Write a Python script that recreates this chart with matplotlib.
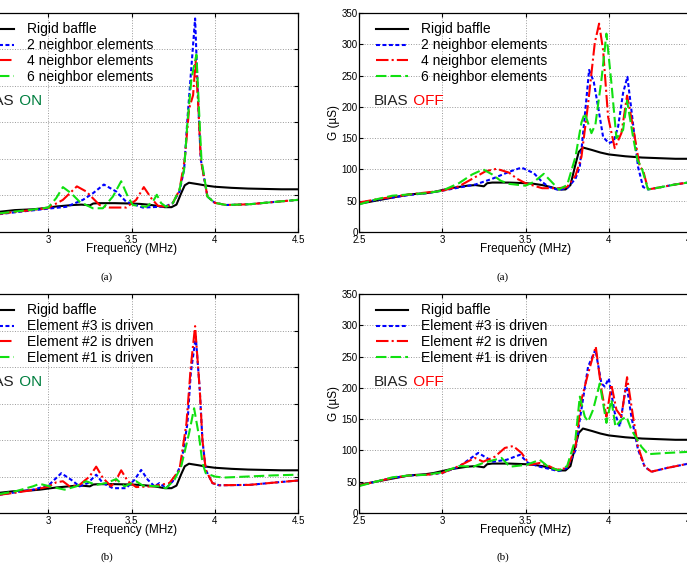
import numpy as np
import matplotlib
matplotlib.use('Agg')
import matplotlib.pyplot as plt

plt.rcParams['font.family'] = ['Liberation Sans', 'DejaVu Sans']

# ---- data: frequency (MHz) / conductance G (uS) ----
# rigid baffle, same in all four panels
RB_F = [2.5, 2.6, 2.7, 2.8, 2.9, 2.95, 3.0, 3.05, 3.1, 3.15, 3.2, 3.25, 3.27, 3.3, 3.4, 3.5,
        3.55, 3.6, 3.65, 3.7, 3.74, 3.77, 3.8, 3.82, 3.845, 3.9, 3.95, 4.0, 4.1, 4.2, 4.3, 4.4, 4.5]
RB_G = [45, 50, 55, 60, 62, 64, 67, 70, 72, 74, 75, 73, 78, 79, 79, 78,
        77, 75, 72, 68, 68, 75, 108, 128, 135, 131, 127, 124, 121, 119, 118, 117, 117]

# (a) BIAS ON, neighbor elements
ON_A_N2_F = [2.5, 2.6, 2.708, 2.8, 2.9, 3.0, 3.108, 3.208, 3.268, 3.334, 3.408, 3.468, 3.568, 3.668,
             3.708, 3.748, 3.788, 3.816, 3.836, 3.856, 3.882, 3.902, 3.916, 3.956, 4.0, 4.068, 4.208, 4.35, 4.5]
ON_A_N2_G = [43, 45, 49, 54, 59, 64, 69, 88, 106, 130, 111, 83, 67, 69,
             71, 79, 111, 171, 310, 430, 585, 338, 199, 97, 80, 74, 76, 82, 88]
ON_A_N4_F = [2.5, 2.6, 2.708, 2.8, 2.9, 3.0, 3.088, 3.172, 3.228, 3.308, 3.368, 3.468, 3.528, 3.574,
             3.618, 3.658, 3.708, 3.748, 3.788, 3.82, 3.846, 3.87, 3.885, 3.902, 3.916, 3.956, 4.0,
             4.068, 4.208, 4.35, 4.5]
ON_A_N4_G = [43, 46, 50, 55, 60, 66, 88, 125, 111, 74, 67, 67, 88, 123,
             93, 72, 69, 79, 115, 200, 338, 375, 470, 338, 199, 97, 80,
             74, 76, 82, 88]
ON_A_N6_F = [2.5, 2.6, 2.708, 2.8, 2.9, 3.0, 3.048, 3.088, 3.138, 3.188, 3.268, 3.328, 3.388, 3.438,
             3.478, 3.508, 3.588, 3.628, 3.652, 3.678, 3.708, 3.748, 3.788, 3.816, 3.836, 3.86, 3.89,
             3.906, 3.92, 3.956, 4.0, 4.068, 4.208, 4.35, 4.5]
ON_A_N6_G = [43, 47, 51, 56, 61, 67, 93, 123, 106, 83, 65, 65, 97, 139,
             97, 74, 69, 83, 102, 79, 69, 79, 116, 171, 300, 420, 486,
             330, 199, 97, 80, 74, 76, 82, 88]

# (a) BIAS OFF, neighbor elements
OFF_A_N2_F = [2.5, 2.6, 2.7, 2.8, 2.9, 3.0, 3.1, 3.2, 3.3, 3.4, 3.476, 3.55, 3.6, 3.64, 3.7, 3.75,
              3.8, 3.826, 3.856, 3.882, 3.91, 3.936, 3.966, 4.0, 4.03, 4.056, 4.086, 4.112, 4.136,
              4.176, 4.206, 4.236, 4.3, 4.4, 4.5]
OFF_A_N2_G = [47, 51, 55, 59, 62, 66, 71, 76, 85, 96, 103, 94, 80, 72, 67, 70,
              85, 104, 185, 259, 240, 200, 152, 142, 145, 168, 222, 248, 195,
              104, 72, 68, 71, 76, 80]
OFF_A_N4_F = [2.5, 2.6, 2.7, 2.8, 2.9, 3.0, 3.1, 3.2, 3.26, 3.326, 3.4, 3.45, 3.5, 3.6, 3.7, 3.75,
              3.8, 3.836, 3.876, 3.916, 3.942, 3.966, 3.996, 4.036, 4.076, 4.11, 4.146, 4.186,
              4.206, 4.236, 4.3, 4.4, 4.5]
OFF_A_N4_G = [47, 52, 56, 60, 63, 66, 73, 88, 97, 101, 95, 85, 78, 70, 70, 72,
              90, 120, 205, 302, 333, 291, 184, 134, 158, 218, 168, 104,
              99, 68, 71, 76, 80]
OFF_A_N6_F = [2.5, 2.6, 2.7, 2.8, 2.9, 3.0, 3.1, 3.18, 3.246, 3.3, 3.35, 3.4, 3.5, 3.55, 3.61, 3.65,
              3.7, 3.75, 3.8, 3.836, 3.856, 3.896, 3.92, 3.956, 3.986, 4.016, 4.046, 4.086, 4.11,
              4.146, 4.172, 4.196, 4.236, 4.3, 4.4, 4.5]
OFF_A_N6_G = [44, 52, 58, 60, 62, 66, 78, 92, 100, 92, 82, 77, 74, 80, 93, 82,
              68, 75, 120, 175, 190, 158, 172, 243, 317, 238, 150, 163, 210,
              152, 115, 104, 68, 71, 76, 80]

# (b) BIAS ON, driven element
ON_B_E3_F = [2.5, 2.6, 2.708, 2.808, 2.908, 3.0, 3.078, 3.138, 3.188, 3.238, 3.288, 3.328, 3.388,
             3.468, 3.518, 3.558, 3.598, 3.638, 3.668, 3.708, 3.748, 3.798, 3.836, 3.856, 3.886,
             3.91, 3.926, 3.946, 3.986, 4.026, 4.208, 4.35, 4.5]
ON_B_E3_G = [42, 46, 50, 57, 64, 75, 109, 91, 73, 82, 105, 82, 68,
             68, 91, 118, 91, 73, 82, 68, 87, 132, 246, 383, 483,
             337, 200, 118, 82, 76, 77, 83, 89]
ON_B_E2_F = [2.5, 2.6, 2.708, 2.808, 2.908, 3.0, 3.048, 3.088, 3.128, 3.188, 3.248, 3.288, 3.328,
             3.378, 3.408, 3.438, 3.478, 3.528, 3.628, 3.728, 3.788, 3.83, 3.856, 3.882, 3.91,
             3.926, 3.946, 3.986, 4.026, 4.208, 4.35, 4.5]
ON_B_E2_G = [42, 46, 50, 56, 63, 72, 84, 87, 73, 77, 100, 127, 96,
             73, 91, 117, 87, 71, 73, 82, 118, 246, 400, 512, 337,
             200, 118, 82, 76, 77, 83, 89]
ON_B_E1_F = [2.5, 2.6, 2.708, 2.808, 2.908, 2.948, 3.008, 3.098, 3.168, 3.228, 3.288, 3.348, 3.408,
             3.458, 3.528, 3.568, 3.668, 3.708, 3.758, 3.798, 3.846, 3.876, 3.906, 3.926, 3.946,
             4.0, 4.05, 4.2, 4.35, 4.5]
ON_B_E1_G = [44, 48, 52, 60, 73, 80, 73, 64, 73, 87, 77, 82, 93,
             73, 87, 75, 73, 68, 91, 127, 219, 287, 209, 137, 109,
             100, 97, 100, 103, 105]

# (b) BIAS OFF, driven element
OFF_B_E3_F = [2.5, 2.6, 2.7, 2.8, 2.9, 3.0, 3.1, 3.216, 3.306, 3.386, 3.466, 3.516, 3.586, 3.666,
              3.7, 3.75, 3.8, 3.826, 3.876, 3.92, 3.956, 3.976, 4.0, 4.036, 4.066, 4.106, 4.136,
              4.176, 4.216, 4.256, 4.35, 4.5]
OFF_B_E3_G = [44, 50, 56, 60, 61, 64, 74, 96, 82, 85, 93, 80, 74, 69,
              67, 72, 100, 149, 234, 261, 207, 202, 215, 160, 138, 207, 154,
              101, 74, 66, 72, 80]
OFF_B_E2_F = [2.5, 2.6, 2.7, 2.8, 2.9, 3.0, 3.1, 3.196, 3.246, 3.316, 3.376, 3.426, 3.476, 3.526,
              3.586, 3.626, 3.686, 3.75, 3.8, 3.836, 3.876, 3.922, 3.956, 3.986, 4.016, 4.046,
              4.076, 4.11, 4.146, 4.176, 4.216, 4.256, 4.35, 4.5]
OFF_B_E2_G = [44, 50, 56, 60, 61, 64, 75, 88, 82, 90, 104, 107, 96, 77,
              80, 77, 69, 72, 105, 181, 223, 266, 197, 154, 205, 165,
              154, 217, 154, 106, 74, 66, 72, 80]
OFF_B_E1_F = [2.5, 2.6, 2.7, 2.8, 2.9, 3.0, 3.1, 3.186, 3.246, 3.356, 3.406, 3.506, 3.586, 3.636,
              3.7, 3.75, 3.8, 3.826, 3.856, 3.876, 3.906, 3.946, 3.986, 4.016, 4.04, 4.076, 4.106,
              4.136, 4.196, 4.236, 4.35, 4.5]
OFF_B_E1_G = [43, 50, 57, 60, 61, 65, 75, 74, 80, 88, 74, 77, 85, 74,
              68, 75, 118, 186, 154, 146, 165, 207, 144, 181, 138, 149, 154,
              133, 106, 94, 96, 98]

NEIGHBOR_LABELS = ['Rigid baffle', '2 neighbor elements', '4 neighbor elements', '6 neighbor elements']
DRIVEN_LABELS = ['Rigid baffle', 'Element #3 is driven', 'Element #2 is driven', 'Element #1 is driven']
X_TICKS = [2.5, 3, 3.5, 4, 4.5]
X_TICKLABELS = ['2.5', '3', '3.5', '4', '4.5']

STYLES = [dict(color='black', ls='-'),
          dict(color='#0000ff', dashes=(1.9, 1.2)),
          dict(color='#ff0000', dashes=(6, 1.5, 1, 1.5)),
          dict(color='#10e010', dashes=(5, 2))]

W, H = 687, 570
fig = plt.figure(figsize=(W / 100, H / 100), dpi=100)


def add_ax(left, top, right, bottom):
    return fig.add_axes([left / W, 1 - bottom / H, (right - left) / W, (bottom - top) / H])


def panel(ax, curves, labels, ymax, ystep, word, wcolor):
    for (f, g), lab, st in zip(curves, labels, STYLES):
        ax.plot(f, g, lw=1.5, label=lab, **st)
    ax.set_xlim(2.5, 4.5)
    ax.set_ylim(0, ymax)
    ax.set_xticks(X_TICKS)
    ax.set_xticklabels(X_TICKLABELS)
    ax.set_yticks(np.arange(0, ymax + 1, ystep))
    ax.grid(True, ls=':', color='#999999', lw=0.7)
    ax.tick_params(direction='in', length=3, labelsize=7, pad=2, top=True, right=True)
    ax.tick_params(axis='y', pad=1)
    for s in ax.spines.values():
        s.set_linewidth(0.9)
    ax.set_xlabel('Frequency (MHz)', fontsize=8.5, labelpad=-1)
    ax.set_ylabel('G (\u00b5S)', fontsize=8.5)
    ax.yaxis.set_label_coords(-0.057, 0.5)
    ax.legend(loc='upper left', bbox_to_anchor=(0.05, 0.957), frameon=False, fontsize=10,
              handlelength=2.3, handletextpad=1.0, labelspacing=0.14, borderpad=0, borderaxespad=0)
    t = ax.text(0.045, 0.6, 'BIAS', transform=ax.transAxes, fontsize=11, color='#222222',
                va='center', ha='left')
    ax.annotate(' ' + word, xy=(1, 0), xycoords=t, va='bottom', ha='left', fontsize=11, color=wcolor)


ax1 = add_ax(-35, 13, 298, 232)
panel(ax1, [(RB_F, RB_G), (ON_A_N2_F, ON_A_N2_G), (ON_A_N4_F, ON_A_N4_G), (ON_A_N6_F, ON_A_N6_G)],
      NEIGHBOR_LABELS, 600, 100, 'ON', '#007f3f')
ax2 = add_ax(359, 13, 692, 232)
panel(ax2, [(RB_F, RB_G), (OFF_A_N2_F, OFF_A_N2_G), (OFF_A_N4_F, OFF_A_N4_G), (OFF_A_N6_F, OFF_A_N6_G)],
      NEIGHBOR_LABELS, 350, 50, 'OFF', '#ff0000')
ax3 = add_ax(-35, 294, 298, 513)
panel(ax3, [(RB_F, RB_G), (ON_B_E3_F, ON_B_E3_G), (ON_B_E2_F, ON_B_E2_G), (ON_B_E1_F, ON_B_E1_G)],
      DRIVEN_LABELS, 600, 100, 'ON', '#007f3f')
ax4 = add_ax(359, 294, 692, 513)
panel(ax4, [(RB_F, RB_G), (OFF_B_E3_F, OFF_B_E3_G), (OFF_B_E2_F, OFF_B_E2_G), (OFF_B_E1_F, OFF_B_E1_G)],
      DRIVEN_LABELS, 350, 50, 'OFF', '#ff0000')

for cx, cy, txt in [(107, 277, '(a)'), (503, 277, '(a)'), (107, 557, '(b)'), (503, 557, '(b)')]:
    fig.text(cx / W, 1 - cy / H, txt, ha='center', va='center', fontsize=8,
             family=['Liberation Serif', 'DejaVu Serif'])

fig.savefig('out.png', dpi=100)
